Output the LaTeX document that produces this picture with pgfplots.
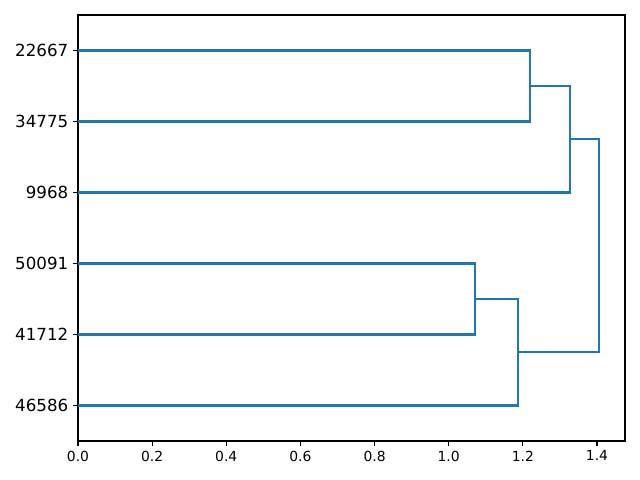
\documentclass[border=0pt]{standalone}
\usepackage{pgfplots}
\pgfplotsset{compat=1.18}
\usepackage{fontspec}
\setmainfont{DejaVu Sans}
\definecolor{c0}{HTML}{1F77B4}
\begin{document}
\begin{tikzpicture}
\path (-56.16pt,-28.08pt) rectangle (404.64pt,317.52pt);
\begin{axis}[
  at={(0,0)}, anchor=south west,
  scale only axis, width=393.84pt, height=306.72pt,
  xmin=0, xmax=1.4756, ymin=0, ymax=60,
  xtick={0,0.2,0.4,0.6,0.8,1.0,1.2,1.4},
  xticklabel style={font=\fontsize{10}{12}\selectfont, /pgf/number format/fixed, /pgf/number format/fixed zerofill, /pgf/number format/precision=1},
  ytick={5,15,25,35,45,55},
  yticklabels={46586,41712,50091,9968,34775,22667},
  yticklabel style={font=\fontsize{12}{14}\selectfont},
  /pgf/number format/assume math mode=true,
  tick align=outside, tick pos=left,
  major tick length=3.5pt,
  tick style={black, line width=0.8pt},
  axis line style={line width=0.8pt},
]
\addplot[c0, line width=1.5pt, mark=none] coordinates {(0,55) (1.219,55) (1.219,45) (0,45)};
\addplot[c0, line width=1.5pt, mark=none] coordinates {(1.219,50) (1.327,50) (1.327,35) (0,35)};
\addplot[c0, line width=1.5pt, mark=none] coordinates {(0,25) (1.071,25) (1.071,15) (0,15)};
\addplot[c0, line width=1.5pt, mark=none] coordinates {(1.071,20) (1.187,20) (1.187,5) (0,5)};
\addplot[c0, line width=1.5pt, mark=none] coordinates {(1.327,42.5) (1.405,42.5) (1.405,12.5) (1.187,12.5)};
\end{axis}
\end{tikzpicture}
\end{document}
